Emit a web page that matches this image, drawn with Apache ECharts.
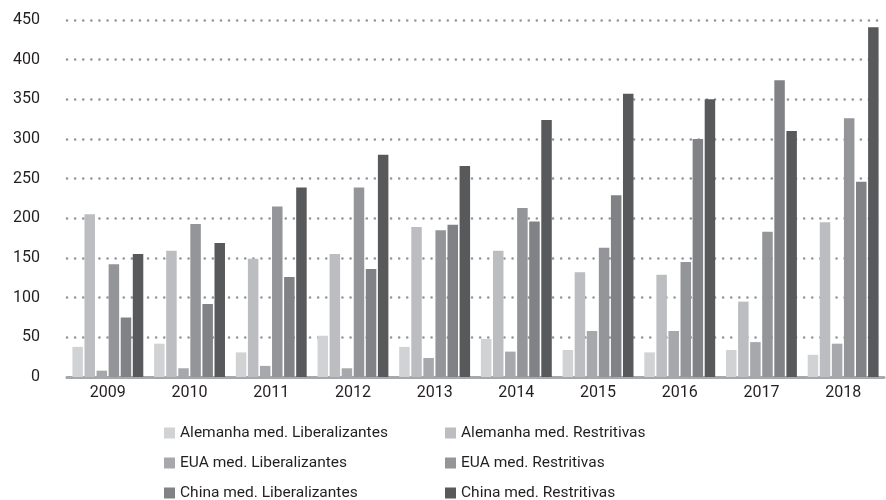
<!DOCTYPE html>
<html>
<head>
<meta charset="utf-8">
<script src="https://cdn.jsdelivr.net/npm/echarts@6/dist/echarts.min.js"></script>
<style>
  html, body { margin: 0; padding: 0; background: #fff; }
  #chart { width: 886px; height: 500px; }
</style>
</head>
<body>
<div id="chart"></div>
<script>
const years = ['2009', '2010', '2011', '2012', '2013', '2014', '2015', '2016', '2017', '2018'];

const alemanhaLib = [38, 42, 31, 52, 38, 48, 34, 31, 34, 28];
const alemanhaRes = [205, 159, 149, 155, 189, 159, 132, 129, 95, 195];
const euaLib = [8, 11, 14, 11, 24, 32, 58, 58, 44, 42];
const euaRes = [142, 193, 215, 239, 185, 213, 163, 145, 183, 326];
const chinaLib = [75, 92, 126, 136, 192, 196, 229, 300, 374, 246];
const chinaRes = [155, 169, 239, 280, 266, 324, 357, 350, 310, 441];

const SERIES = [
  { name: 'Alemanha med. Liberalizantes', data: alemanhaLib, color: '#d1d2d4' },
  { name: 'Alemanha med. Restritivas', data: alemanhaRes, color: '#bcbdc0' },
  { name: 'EUA med. Liberalizantes', data: euaLib, color: '#a7a8ab' },
  { name: 'EUA med. Restritivas', data: euaRes, color: '#939598' },
  { name: 'China med. Liberalizantes', data: chinaLib, color: '#808285' },
  { name: 'China med. Restritivas', data: chinaRes, color: '#58595b' }
];

const FONT = 'Roboto';
const TEXT_COLOR = '#231f20';

// one legend per item: two columns, three rows
const LEGEND_LEFT = [164, 445];
const LEGEND_TOP = [425, 455, 485];

const chart = echarts.init(document.getElementById('chart'));

chart.setOption({
  animation: false,
  backgroundColor: '#fff',
  grid: { left: 67, right: 2, top: 20, bottom: 123 },
  legend: SERIES.map((s, i) => ({
    left: LEGEND_LEFT[i % 2],
    top: LEGEND_TOP[Math.floor(i / 2)],
    padding: 0,
    itemWidth: 11,
    itemHeight: 11,
    icon: 'rect',
    data: [s.name],
    textStyle: { fontFamily: FONT, fontSize: 15.5, color: TEXT_COLOR }
  })),
  xAxis: {
    type: 'category',
    data: years,
    axisLine: { show: true, lineStyle: { color: '#a7a8ab', width: 3 } },
    axisTick: { show: false },
    axisLabel: { fontFamily: FONT, fontSize: 16, color: TEXT_COLOR, margin: 8 }
  },
  yAxis: {
    type: 'value',
    min: 0,
    max: 450,
    interval: 50,
    axisLine: { show: false },
    axisTick: { show: false },
    axisLabel: { fontFamily: FONT, fontSize: 16, color: TEXT_COLOR, margin: 27 },
    splitLine: {
      lineStyle: { color: '#939598', width: 2.5, type: [0.1, 8], cap: 'round' }
    }
  },
  series: SERIES.map(s => ({
    name: s.name,
    type: 'bar',
    data: s.data,
    barWidth: 10.5,
    barGap: '15%',
    itemStyle: { color: s.color }
  }))
});
</script>
</body>
</html>
